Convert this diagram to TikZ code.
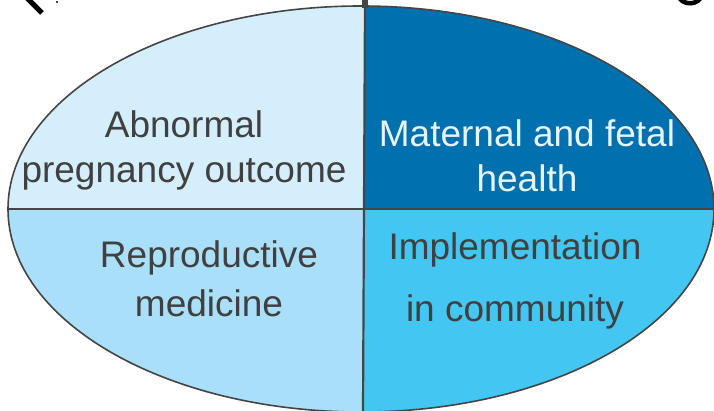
\documentclass[tikz,border=0pt]{standalone}
\usepackage{fontspec}
\setmainfont{Liberation Sans}
\definecolor{paleblue}{HTML}{D5EEFB}
\definecolor{deepblue}{HTML}{0070AE}
\definecolor{softblue}{HTML}{A9DFF9}
\definecolor{skyblue}{HTML}{44C6F2}
\definecolor{inkgray}{HTML}{404040}
\definecolor{linegray}{HTML}{454545}
\begin{document}
\begin{tikzpicture}[x=1pt,y=-1pt,>=stealth]
            \useasboundingbox (0,0) rectangle (714,411);
            \tikzset{label text/.style={font=\fontsize{37}{45}\selectfont, text=inkgray, align=center, inner sep=0pt}}
            \begin{scope}
              \clip (361,209) ellipse (353 and 203);
              \fill[paleblue] (0,0) rectangle (364,209);
              \fill[deepblue] (364,0) rectangle (714,209);
              \fill[softblue] (0,209) rectangle (364,420);
              \fill[skyblue] (364,209) rectangle (714,420);
              \draw[linegray, line width=1.6] (0,209) -- (714,209);
            \end{scope}
            \draw[linegray, line width=1.6] (361,209) ellipse (353 and 203);
            \draw[linegray, line width=2.2] (365,0) -- (363,411);
            \fill[linegray] (362,0) rectangle (368,8);
            % cut-off letters at the top
            \draw[black, line width=5] (27,-2) -- (42,13);
            \fill[black] (57,2) circle (1.2);
            \draw[black, line width=4.5] (679,-4) arc (175:5:11 and 8);
            \node[label text] (abnormal) at (184,150) {Abnormal\\pregnancy outcome};
            \node[label text, text=paleblue!60!white] (maternal) at (527,156) {Maternal and fetal\\health};
            \node[label text, font=\fontsize{37}{49}\selectfont] (reprod) at (209,279) {Reproductive\\medicine};
            \node[label text, font=\fontsize{37}{62}\selectfont] (implement) at (515,281) {Implementation\\in community};
        \end{tikzpicture}
\end{document}
